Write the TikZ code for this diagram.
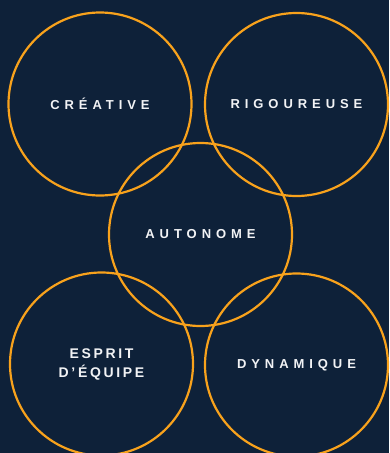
\documentclass[tikz,border=0pt]{standalone}
\usepackage{fontspec}
\setmainfont{Liberation Sans}
\newfontfamily\wideface{Liberation Sans}[LetterSpace=38]
\newfontfamily\midface{Liberation Sans}[LetterSpace=19]
\definecolor{bgnavy}{HTML}{0E2139}
\definecolor{ring}{HTML}{F8A21C}
\definecolor{txt}{HTML}{F2F3F5}
\begin{document}
\begin{tikzpicture}[x=1pt,y=-1pt,
  ringnode/.style={circle,draw=ring,line width=2.2pt,minimum size=183pt,inner sep=0pt,
    text=txt,font=\wideface\fontsize{13}{19}\selectfont\bfseries,align=center},
  pairtext/.style={font=\midface\fontsize{14}{19}\selectfont\bfseries}]
\fill[bgnavy] (0,0) rectangle (389,453);
\useasboundingbox (0,0) rectangle (389,453);
\clip (0,0) rectangle (389,453);
\node[ringnode] (creative) at (100,104) {CRÉATIVE};
\node[ringnode] (rigoureuse) at (296.5,104.5) {RIGOUREUSE};
\node[ringnode] (autonome) at (200.5,234.5) {AUTONOME};
\node[ringnode,pairtext] (esprit) at (101.5,364) {ESPRIT\\D’ÉQUIPE};
\node[ringnode] (dynamique) at (296.5,365) {DYNAMIQUE};
\end{tikzpicture}
\end{document}
